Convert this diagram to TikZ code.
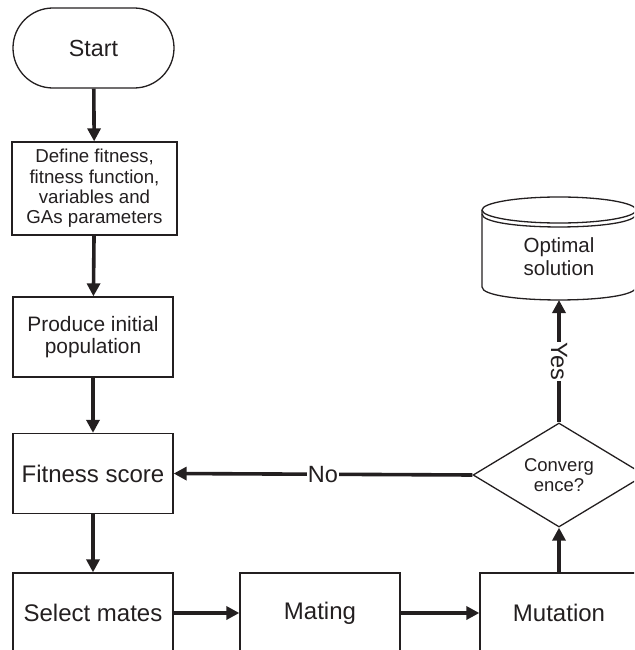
\documentclass[tikz,border=0pt]{standalone}
\usepackage{fontspec}
\setmainfont{Liberation Sans}
\usetikzlibrary{shapes.geometric,arrows.meta}
\definecolor{ink}{RGB}{35,31,32}
\begin{document}
\begin{tikzpicture}[x=1pt,y=-1pt,
  box/.style={draw=ink,line width=1.3pt,rectangle,inner sep=0pt,align=center,text=ink},
  conn/.style={draw=ink,line width=3.6pt,-{Triangle[length=13pt,width=13pt]}},
  lbl/.style={fill=white,inner sep=0.5pt,text=ink,font=\fontsize{23.5}{26}\selectfont},
  fbig/.style={font=\fontsize{24}{28}\selectfont}]
\useasboundingbox (0,0) rectangle (634,650);
\clip (0,0) rectangle (634,650);
% nodes
\node[box,font=\fontsize{23.3}{27}\selectfont,rounded corners=39.9pt,minimum width=161pt,minimum height=80pt] (start) at (93.5,48) {Start};
\node[box,minimum width=165pt,minimum height=93pt,font=\fontsize{18.7}{20.3}\selectfont] (define) at (94.5,188.5) {Define fitness,\\fitness function,\\variables and\\GAs parameters};
\node[box,minimum width=160pt,minimum height=80pt,font=\fontsize{20.9}{22.5}\selectfont] (produce) at (93,337) {Produce initial\\population};
\node[box,fbig,minimum width=160pt,minimum height=80pt] (fitness) at (93,473.5) {Fitness score};
\node[box,fbig,minimum width=160pt,minimum height=80pt] (select) at (93,613) {Select mates};
\node[box,fbig,minimum width=160pt,minimum height=80pt] (mating) at (320,613) {Mating};
\node[box,fbig,minimum width=158pt,minimum height=80pt] (mutation) at (559,613) {Mutation};
\node[box,diamond,minimum width=172pt,minimum height=104pt,aspect=1.65,font=\fontsize{18.5}{20.5}\selectfont] (conv) at (559,475) {Converg\\ence?};
% cylinder
\draw[ink,line width=1.3pt] (559,210) ellipse [x radius=77, y radius=13];
\draw[ink,line width=1.3pt] (482,210) -- (482,287) .. controls (482,304.3) and (636,304.3) .. (636,287) -- (636,210);
\draw[ink,line width=1.3pt] (482,214) .. controls (482,231.3) and (636,231.3) .. (636,214);
\node[text=ink,align=center,inner sep=0pt,font=\fontsize{20.5}{23}\selectfont] (opt) at (559,257) {Optimal\\solution};
\coordinate (optb) at (559,300);
% connectors
\draw[conn] (start) -- (define);
\draw[conn] (define) -- (produce);
\draw[conn] (produce) -- (fitness);
\draw[conn] (fitness) -- (select);
\draw[conn] (select) -- (mating);
\draw[conn] (mating) -- (mutation);
\draw[conn] (mutation) -- (conv);
\draw[conn] (conv.north) -- node[lbl,rotate=-90]{Yes} (optb);
\draw[conn] (conv.west) -- node[lbl]{No} (fitness.east);
\end{tikzpicture}
\end{document}
